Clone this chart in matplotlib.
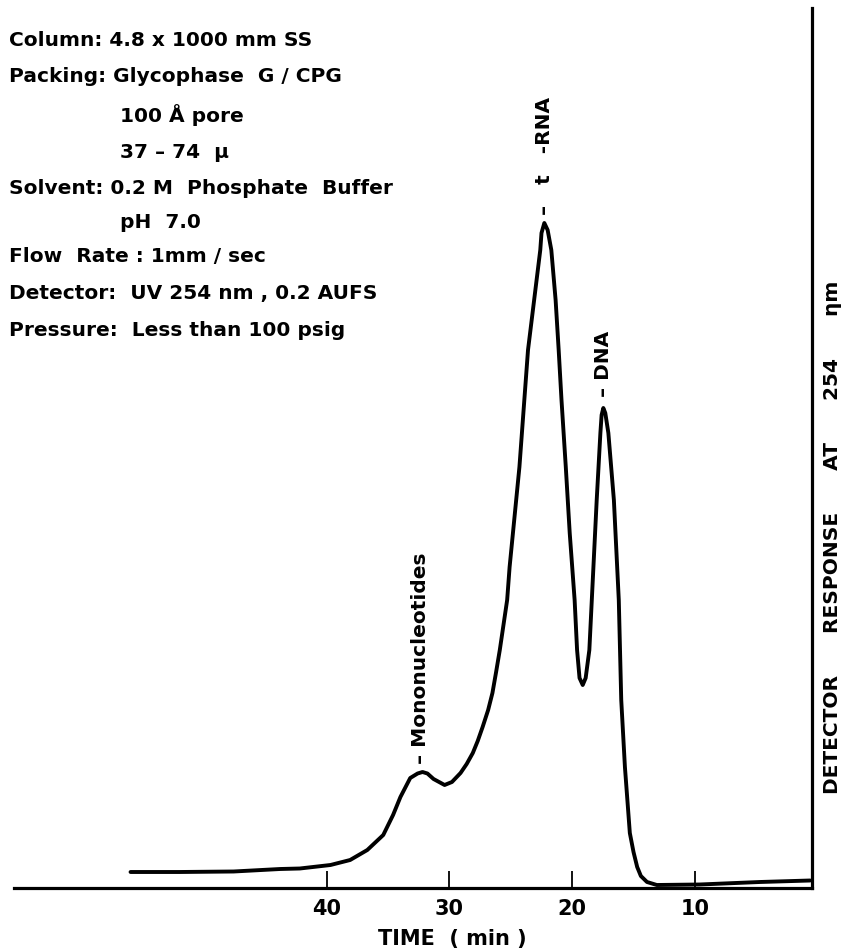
import matplotlib
matplotlib.use("Agg")
from matplotlib import pyplot as plt

plt.rcParams['font.family'] = ['DejaVu Sans']
plt.rcParams['font.weight'] = 'bold'

# elution trace, time in min (decreasing to the right) and detector response
time_min = [56.0, 52.0, 47.6, 43.8, 42.2, 39.7, 38.1, 36.7, 35.4, 34.6,
            34.0, 33.2, 32.6, 32.2, 31.8, 31.3, 30.4, 29.8, 29.1, 28.6,
            28.1, 27.7, 27.3, 26.85, 26.5, 26.2, 25.9, 25.6, 25.3, 25.1,
            24.7, 24.3, 23.9, 23.6, 23.1, 22.6, 22.5, 22.27, 22.0, 21.7,
            21.35, 21.1, 20.87, 20.52, 20.2, 19.8, 19.6, 19.4, 19.14, 18.9,
            18.6, 18.4, 18.0, 17.7, 17.6, 17.46, 17.3, 17.05, 16.6, 16.2,
            16.0, 15.7, 15.3, 15.0, 14.7, 14.4, 13.9, 13.1, 9.6, 4.7,
            0.6]
response = [15.5, 15.5, 16, 18.5, 19, 22.5, 27.5, 37.5, 52.5, 72.5,
            90.5, 109.5, 114, 115.5, 114, 108.5, 102.5, 105.5, 114.5, 123.5,
            134.5, 146.5, 160.5, 177.5, 194.5, 215.5, 237.5, 262.5, 287.5, 320.5,
            370.5, 420.5, 487.5, 537.5, 587.5, 637.5, 654.5, 664.5, 657.5, 637.5,
            587.5, 537.5, 487.5, 420.5, 354.5, 287.5, 237.5, 209.5, 202.5, 209.5,
            237.5, 287.5, 387.5, 454.5, 472.5, 479.5, 474.5, 454.5, 387.5, 287.5,
            187.5, 120.5, 54.5, 35.5, 20.5, 11.5, 5.5, 2.5, 3, 5.5,
            7]

tick_times = [40, 30, 20, 10]
tick_labels = ['40', '30', '20', '10']

peak_names = ['\u2013 Mononucleotides', '\u2013   t   -RNA', '\u2013 DNA']
peak_times = [32.4, 22.27, 17.46]
peak_heights = [115.5, 664.5, 479.5]
peak_gaps = [6, 6, 8]

conditions = [
    ('Column: 4.8 x 1000 mm SS', 9, 40),
    ('Packing: Glycophase  G / CPG', 9, 76),
    ('100 \u00c5 pore', 120, 115),
    ('37 \u2013 74  \u03bc', 120, 152),
    ('Solvent: 0.2 M  Phosphate  Buffer', 9, 188),
    ('pH  7.0', 120, 223),
    ('Flow  Rate : 1mm / sec', 9, 256),
    ('Detector:  UV 254 nm , 0.2 AUFS', 9, 293),
    ('Pressure:  Less than 100 psig', 9, 331),
]

W, H = 849, 951
fig = plt.figure(figsize=(W / 100, H / 100), dpi=100)
ax = fig.add_axes([14 / W, (H - 887.5) / H, (812 - 14) / W, (887.5 - 8) / H])

ax.plot(time_min, response, color='black', lw=2.8, solid_joinstyle='round',
        solid_capstyle='round')

ax.set_xlim(65.5, 0.45)
ax.set_ylim(0, 879.5)

for side in ['top', 'left']:
    ax.spines[side].set_visible(False)
for side in ['bottom', 'right']:
    ax.spines[side].set_linewidth(2.3)

ax.set_xticks(tick_times)
ax.set_xticklabels(tick_labels, fontsize=15, fontweight='bold')
ax.tick_params(axis='x', direction='in', length=12, width=1.3, pad=8)
ax.set_yticks([])

for name, t, h, gap in zip(peak_names, peak_times, peak_heights, peak_gaps):
    ax.annotate(name, xy=(t, h), xytext=(0, gap), textcoords='offset points',
                rotation=90, ha='center', va='bottom', fontsize=14.5,
                fontweight='bold')

for text, px, py in conditions:
    fig.text(px / W, 1 - py / H, text, fontsize=14.5, fontweight='bold',
             ha='left', va='center')

fig.text(452 / W, 1 - 939 / H, 'TIME  ( min )', fontsize=15,
         fontweight='bold', ha='center', va='center')
fig.text(832 / W, 1 - 537 / H,
         'DETECTOR      RESPONSE      AT      254      \u03b7m',
         rotation=90, fontsize=14.5, fontweight='bold', ha='center',
         va='center')

fig.savefig('out.png', dpi=100)
